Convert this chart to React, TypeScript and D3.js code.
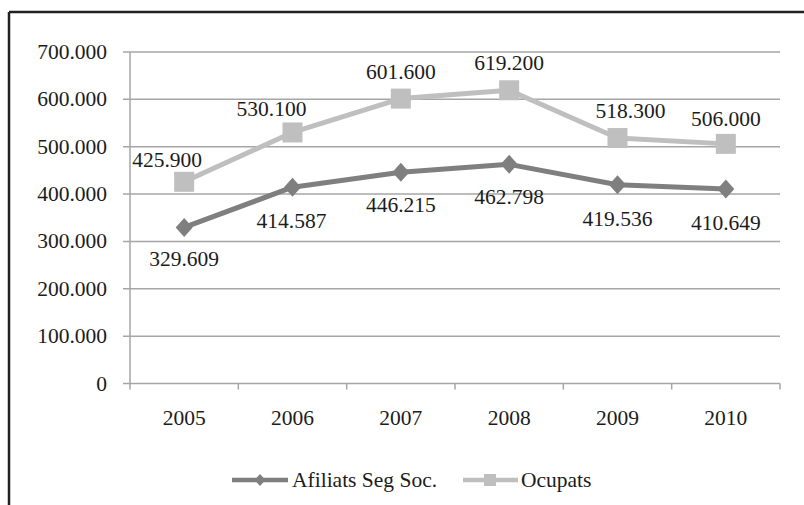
import React from "react";
import * as d3 from "d3";

const years = ["2005", "2006", "2007", "2008", "2009", "2010"];
const afiliats = [329609, 414587, 446215, 462798, 419536, 410649];
const ocupats = [425900, 530100, 601600, 619200, 518300, 506000];
const yTicks = [0, 100000, 200000, 300000, 400000, 500000, 600000, 700000];
const seriesNames = ["Afiliats Seg Soc.", "Ocupats"];
// manual label nudges (as placed in the original)
const ocuLabelDx = [-17, -21, 0, 0, 13, 0];
const ocuLabelDy = [-22, -23, -27, -27, -27, -25];
const afiLabelDx = [0, -1, 0, 0, 0, 0];
const afiLabelDy = [32, 34, 33, 33, 34, 34];

const W = 804;
const H = 505;
const FONT = "'Liberation Serif', 'Times New Roman', serif";
const FS = 21.5;
const TEXT = "#1c1c1c";
const DARK = "#7f7f7f";
const LIGHT = "#bfbfbf";
const GRID = "#a6a6a6";

const locale = d3.formatLocale({ decimal: ",", thousands: ".", grouping: [3], currency: ["", ""] });
const fmt = locale.format(",d");

export default function App() {
  const x = d3.scaleBand<string>().domain(years).range([130, 780]).padding(0);
  const y = d3.scaleLinear().domain([0, 700000]).range([383.5, 52]);
  const cx = (d: string) => (x(d) as number) + x.bandwidth() / 2;

  const line = d3
    .line<number>()
    .x((_, i) => cx(years[i]))
    .y((v) => y(v));

  const boundaries = years.map((d) => x(d) as number).concat([780]);

  return (
    <svg
      width={W}
      height={H}
      style={{ position: "absolute", left: 0, top: 0, background: "#fff" }}
      fontFamily={FONT}
    >
      <rect x={0} y={0} width={W} height={H} fill="#fff" />
      {/* frame */}
      <line x1={9} y1={12} x2={W} y2={12} stroke="#222" strokeWidth={2.5} />
      <line x1={9} y1={12} x2={9} y2={H} stroke="#222" strokeWidth={2.5} />

      {/* gridlines and y ticks */}
      {yTicks.map((t) => (
        <g key={t}>
          <line x1={123} x2={780} y1={y(t)} y2={y(t)} stroke={GRID} strokeWidth={1.5} />
          <text
            x={107}
            y={y(t)}
            textAnchor="end"
            dominantBaseline="central"
            fontSize={FS}
            fill={TEXT}
          >
            {fmt(t)}
          </text>
        </g>
      ))}
      {/* y axis */}
      <line x1={130} x2={130} y1={y(700000)} y2={y(0)} stroke={GRID} strokeWidth={1.5} />
      {/* x axis ticks */}
      {boundaries.map((b, i) => (
        <line key={i} x1={b} x2={b} y1={y(0)} y2={y(0) + 6} stroke={GRID} strokeWidth={1.5} />
      ))}
      {years.map((yr) => (
        <text
          key={yr}
          x={cx(yr)}
          y={418}
          textAnchor="middle"
          dominantBaseline="central"
          fontSize={FS}
          fill={TEXT}
        >
          {yr}
        </text>
      ))}

      {/* Ocupats series */}
      <path d={line(ocupats) || ""} fill="none" stroke={LIGHT} strokeWidth={5} strokeLinejoin="round" />
      {ocupats.map((v, i) => (
        <rect key={i} x={cx(years[i]) - 10} y={y(v) - 10} width={20} height={20} fill={LIGHT} />
      ))}
      {/* Afiliats series */}
      <path d={line(afiliats) || ""} fill="none" stroke={DARK} strokeWidth={5} strokeLinejoin="round" />
      {afiliats.map((v, i) => {
        const px = cx(years[i]);
        const py = y(v);
        return (
          <path
            key={i}
            d={`M${px},${py - 9.5}L${px + 8.5},${py}L${px},${py + 9.5}L${px - 8.5},${py}Z`}
            fill={DARK}
          />
        );
      })}

      {/* labels */}
      {ocupats.map((v, i) => (
        <text
          key={"o" + i}
          x={cx(years[i]) + ocuLabelDx[i]}
          y={y(v) + ocuLabelDy[i]}
          textAnchor="middle"
          dominantBaseline="central"
          fontSize={FS}
          fill={TEXT}
        >
          {fmt(v)}
        </text>
      ))}
      {afiliats.map((v, i) => (
        <text
          key={"a" + i}
          x={cx(years[i]) + afiLabelDx[i]}
          y={y(v) + afiLabelDy[i]}
          textAnchor="middle"
          dominantBaseline="central"
          fontSize={FS}
          fill={TEXT}
        >
          {fmt(v)}
        </text>
      ))}

      {/* legend */}
      <g>
        <line x1={232} x2={288} y1={480} y2={480} stroke={DARK} strokeWidth={4.5} />
        <path d={`M260,474L265.5,480L260,486L254.5,480Z`} fill={DARK} />
        <text x={292} y={480} dominantBaseline="central" fontSize={FS} fill={TEXT}>
          {seriesNames[0]}
        </text>
        <line x1={463} x2={518} y1={480} y2={480} stroke={LIGHT} strokeWidth={4.5} />
        <rect x={484} y={474} width={12} height={12} fill={LIGHT} />
        <text x={521} y={480} dominantBaseline="central" fontSize={FS} fill={TEXT}>
          {seriesNames[1]}
        </text>
      </g>
    </svg>
  );
}
